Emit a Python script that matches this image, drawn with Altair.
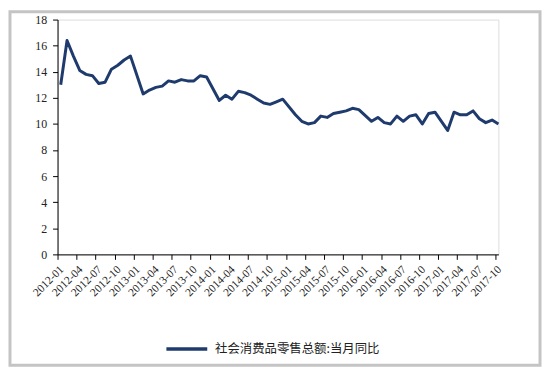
import altair as alt
import pandas as pd

months = [f"{y}-{m:02d}" for y in range(2012, 2018) for m in range(1, 13)][:70]
values = [
    13.0, 16.4, 15.2, 14.1, 13.8, 13.7, 13.1, 13.2, 14.2, 14.5, 14.9, 15.2,
    None, 12.3, 12.6, 12.8, 12.9, 13.3, 13.2, 13.4, 13.3, 13.3, 13.7, 13.6,
    None, 11.8, 12.2, 11.9, 12.5, 12.4, 12.2, 11.9, 11.6, 11.5, 11.7, 11.9,
    None, 10.7, 10.2, 10.0, 10.1, 10.6, 10.5, 10.8, 10.9, 11.0, 11.2, 11.1,
    None, 10.2, 10.5, 10.1, 10.0, 10.6, 10.2, 10.6, 10.7, 10.0, 10.8, 10.9,
    None, 9.5, 10.9, 10.7, 10.7, 11.0, 10.4, 10.1, 10.3, 10.0,
]
series_name = "社会消费品零售总额:当月同比"
tick_labels = months[::3]
y_ticks = list(range(0, 19, 2))

df = pd.DataFrame({"month": months, "value": values, "series": series_name})
df["idx"] = range(len(df))
df = df.dropna()

label_array = "[" + ",".join(f"'{t}'" for t in tick_labels) + "]"

line = alt.Chart(df).transform_calculate(
    pos="datum.idx + 0.5"
).mark_line(strokeWidth=3, strokeJoin="round").encode(
    x=alt.X("pos:Q",
            scale=alt.Scale(domain=[0, 69.5], nice=False, zero=False),
            axis=alt.Axis(values=list(range(0, 70, 3)), labelExpr=f"{label_array}[round(datum.value/3)]",
                          labelAngle=-45, labelFont="Liberation Serif", labelFontSize=11.5,
                          labelColor="#222", domainColor="#000", tickColor="#000",
                          tickSize=5, labelPadding=4, grid=False, title=None,
                          labelOverlap=False, labelBound=False, labelFlush=False)),
    y=alt.Y("value:Q",
            scale=alt.Scale(domain=[0, 18], nice=False),
            axis=alt.Axis(values=y_ticks, labelFont="Liberation Serif", labelFontSize=12,
                          labelColor="#222", domainColor="#000", tickColor="#000",
                          tickSize=5, labelPadding=6, grid=False, title=None)),
    color=alt.Color("series:N", scale=alt.Scale(range=["#1f3b6e"]),
                    legend=alt.Legend(title=None, orient="none", legendX=108, legendY=310,
                                      symbolType="stroke", symbolSize=1700, symbolStrokeWidth=3.5,
                                      labelFont="Noto Sans CJK SC", labelFontSize=12.5,
                                      labelLimit=400,
                                      labelColor="#222", padding=0, labelOffset=6)),
)

frame = alt.Chart(pd.DataFrame({"k": [0]})).mark_rect(
    filled=False, stroke="#c4c4c4", strokeWidth=3
).encode(x=alt.value(-48), x2=alt.value(487), y=alt.value(-8), y2=alt.value(349))

chart = alt.layer(line, frame).properties(
    width=445, height=237,
    autosize=alt.AutoSizeParams(type="none"),
    padding={"left": 50, "top": 10, "right": 44, "bottom": 114},
).configure_view(stroke=None).configure(background="white")

chart.save("out.html", embed_options={"renderer": "svg", "actions": False})
